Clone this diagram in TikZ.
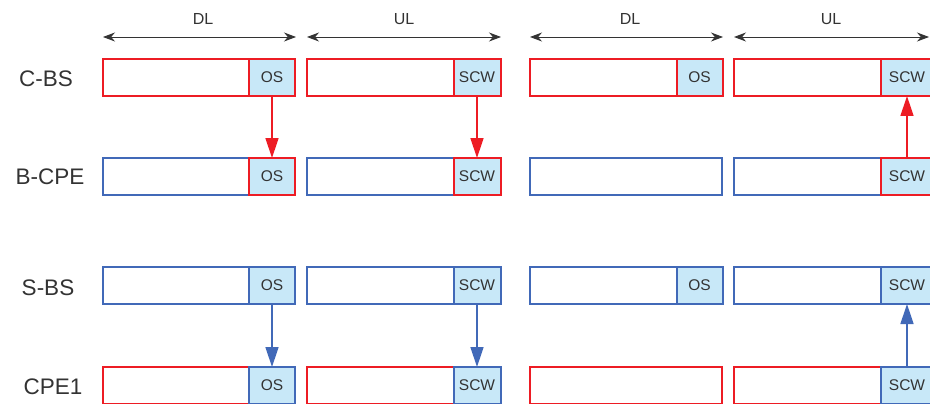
\documentclass[tikz,border=0pt]{standalone}
\usepackage{fontspec}
\setmainfont{Liberation Sans}
\usetikzlibrary{arrows.meta}
\definecolor{fr}{HTML}{ED1C24}
\definecolor{fb}{HTML}{4169B8}
\definecolor{cellfill}{HTML}{C8E8F8}
\definecolor{ink}{HTML}{333333}
\tikzset{
  frame/.style={draw, line width=2pt, fill=white, minimum height=37pt, inner sep=0pt, outer sep=0pt},
  cell/.style={draw, line width=2pt, fill=cellfill, minimum height=37pt, inner sep=0pt, outer sep=0pt,
    text=ink, font=\fontsize{15.5}{17}\selectfont},
  rowlabel/.style={text=ink, font=\fontsize{22.5}{26}\selectfont},
  spanlabel/.style={text=ink, font=\fontsize{16}{18}\selectfont},
  span/.style={draw=ink, line width=0.9pt, {Stealth[length=12pt,width=9pt]}-{Stealth[length=12pt,width=9pt]}},
  link/.style={line width=1.4pt, -{Triangle[length=20pt,width=13pt]}}
}
\begin{document}
\begin{tikzpicture}[x=1pt,y=-1pt]
\useasboundingbox (0,0) rectangle (930,404);
\begin{scope}
\clip (0,0) rectangle (930,404);

% span arrows with DL / UL headings
\coordinate (d1a) at (103,37); \coordinate (d1b) at (296,37);
\coordinate (u1a) at (307,37); \coordinate (u1b) at (501,37);
\coordinate (d2a) at (530,37); \coordinate (d2b) at (723,37);
\coordinate (u2a) at (734,37); \coordinate (u2b) at (929,37);
\draw[span] (d1a) -- (d1b);
\draw[span] (u1a) -- (u1b);
\draw[span] (d2a) -- (d2b);
\draw[span] (u2a) -- (u2b);
\node[spanlabel] (tdl1) at (203,19) {DL};
\node[spanlabel] (tul1) at (404,19) {UL};
\node[spanlabel] (tdl2) at (630,19) {DL};
\node[spanlabel] (tul2) at (831,19) {UL};

% row labels
\node[rowlabel] (lab1) at (46,79) {C-BS};
\node[rowlabel] (lab2) at (50,177) {B-CPE};
\node[rowlabel] (lab3) at (48,288) {S-BS};
\node[rowlabel] (lab4) at (53,387) {CPE1};

% row 1: C-BS
\node[frame, draw=fr, minimum width=191pt] (a1) at (198.5,77.5) {};
\node[cell, draw=fr, minimum width=46pt] (ac1) at (272,77.5) {OS};
\node[frame, draw=fr, minimum width=193pt] (a2) at (403.5,77.5) {};
\node[cell, draw=fr, minimum width=47pt] (ac2) at (477,77.5) {SCW};
\node[frame, draw=fr, minimum width=192pt] (a3) at (626,77.5) {};
\node[cell, draw=fr, minimum width=46pt] (ac3) at (699.5,77.5) {OS};
\node[frame, draw=fr, minimum width=199pt] (a4) at (833,77.5) {};
\node[cell, draw=fr, minimum width=53pt] (ac4) at (907,77.5) {SCW};

% row 2: B-CPE
\node[frame, draw=fb, minimum width=191pt] (b1) at (198.5,176.5) {};
\node[cell, draw=fr, minimum width=46pt] (bc1) at (272,176.5) {OS};
\node[frame, draw=fb, minimum width=193pt] (b2) at (403.5,176.5) {};
\node[cell, draw=fr, minimum width=47pt] (bc2) at (477,176.5) {SCW};
\node[frame, draw=fb, minimum width=192pt] (b3) at (626,176.5) {};
\node[frame, draw=fb, minimum width=199pt] (b4) at (833,176.5) {};
\node[cell, draw=fr, minimum width=53pt] (bc4) at (907,176.5) {SCW};

% row 3: S-BS
\node[frame, draw=fb, minimum width=191pt] (s1) at (198.5,285.5) {};
\node[cell, draw=fb, minimum width=46pt] (sc1) at (272,285.5) {OS};
\node[frame, draw=fb, minimum width=193pt] (s2) at (403.5,285.5) {};
\node[cell, draw=fb, minimum width=47pt] (sc2) at (477,285.5) {SCW};
\node[frame, draw=fb, minimum width=192pt] (s3) at (626,285.5) {};
\node[cell, draw=fb, minimum width=46pt] (sc3) at (699.5,285.5) {OS};
\node[frame, draw=fb, minimum width=199pt] (s4) at (833,285.5) {};
\node[cell, draw=fb, minimum width=53pt] (sc4) at (907,285.5) {SCW};

% row 4: CPE1
\node[frame, draw=fr, minimum width=191pt] (c1) at (198.5,385.5) {};
\node[cell, draw=fb, minimum width=46pt] (cc1) at (272,385.5) {OS};
\node[frame, draw=fr, minimum width=193pt] (c2) at (403.5,385.5) {};
\node[cell, draw=fb, minimum width=47pt] (cc2) at (477,385.5) {SCW};
\node[frame, draw=fr, minimum width=192pt] (c3) at (626,385.5) {};
\node[frame, draw=fr, minimum width=199pt] (c4) at (833,385.5) {};
\node[cell, draw=fb, minimum width=53pt] (cc4) at (907,385.5) {SCW};

% signalling links
\draw[link, fr] (ac1.south) -- (bc1.north);
\draw[link, fr] (ac2.south) -- (bc2.north);
\draw[link, fr] (bc4.north) -- (ac4.south);
\draw[link, fb] (sc1.south) -- (cc1.north);
\draw[link, fb] (sc2.south) -- (cc2.north);
\draw[link, fb] (cc4.north) -- (sc4.south);
\end{scope}
\end{tikzpicture}
\end{document}
